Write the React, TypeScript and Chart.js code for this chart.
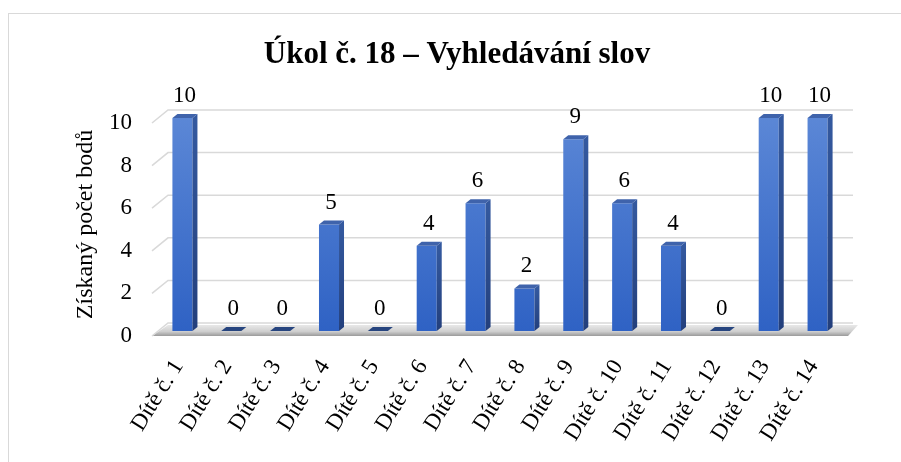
import React, { useEffect, useRef } from 'react';
import { Chart, registerables } from 'chart.js';

Chart.register(...registerables);

const categories = [
  'Dítě č. 1', 'Dítě č. 2', 'Dítě č. 3', 'Dítě č. 4', 'Dítě č. 5', 'Dítě č. 6', 'Dítě č. 7',
  'Dítě č. 8', 'Dítě č. 9', 'Dítě č. 10', 'Dítě č. 11', 'Dítě č. 12', 'Dítě č. 13', 'Dítě č. 14',
];
const values = [10, 0, 0, 5, 0, 4, 6, 2, 9, 6, 4, 0, 10, 10];
const yTicks = [0, 2, 4, 6, 8, 10];
const titleText = 'Úkol č. 18 – Vyhledávání slov';
const yAxisTitle = 'Získaný počet bodů';

const FONT = '"Liberation Serif", "Times New Roman", serif';

const threeD = {
  id: 'threeD',
  beforeDatasetsDraw(chart: any) {
    const { ctx, chartArea, scales } = chart;
    const y = scales.y;
    const left = chartArea.left;
    const right = chartArea.right;
    const y0 = y.getPixelForValue(0);
    ctx.save();
    // floor
    const fg = ctx.createLinearGradient(0, y0 - 8, 0, y0 + 6);
    fg.addColorStop(0, '#f0f0f0');
    fg.addColorStop(0.6, '#cfcfcf');
    fg.addColorStop(1, '#8f8f8f');
    ctx.fillStyle = fg;
    ctx.beginPath();
    ctx.moveTo(left - 6, y0 + 5);
    ctx.lineTo(right + 6, y0 + 5);
    ctx.lineTo(right + 16, y0 - 6);
    ctx.lineTo(left + 10, y0 - 6);
    ctx.closePath();
    ctx.fill();
    // back-wall gridlines
    ctx.strokeStyle = '#d9d9d9';
    ctx.lineWidth = 1.5;
    for (const v of yTicks) {
      const p = y.getPixelForValue(v);
      ctx.beginPath();
      ctx.moveTo(left - 6, p + 5);
      ctx.lineTo(left + 10, p - 8);
      ctx.lineTo(right + 11, p - 8);
      ctx.stroke();
    }
    ctx.restore();
  },
  afterDatasetsDraw(chart: any) {
    const { ctx } = chart;
    const meta = chart.getDatasetMeta(0);
    const data = chart.data.datasets[0].data as number[];
    ctx.save();
    meta.data.forEach((bar: any, i: number) => {
      const { x, y, base, width } = bar.getProps(['x', 'y', 'base', 'width'], true);
      const xl = x - width / 2;
      const xr = x + width / 2;
      const dx = 5;
      const dy = 4;
      if (data[i] > 0) {
        const sg = ctx.createLinearGradient(0, y, 0, base);
        sg.addColorStop(0, '#34599f');
        sg.addColorStop(1, '#233f7c');
        ctx.fillStyle = sg;
        ctx.beginPath();
        ctx.moveTo(xr, y);
        ctx.lineTo(xr + dx, y - dy);
        ctx.lineTo(xr + dx, base - dy);
        ctx.lineTo(xr, base);
        ctx.closePath();
        ctx.fill();
        ctx.fillStyle = '#3f63ab';
      } else {
        ctx.fillStyle = '#27457f';
      }
      ctx.beginPath();
      ctx.moveTo(xl, y);
      ctx.lineTo(xr, y);
      ctx.lineTo(xr + dx, y - dy);
      ctx.lineTo(xl + dx, y - dy);
      ctx.closePath();
      ctx.fill();
      // data label
      ctx.fillStyle = '#000';
      ctx.font = `23px ${FONT}`;
      ctx.textAlign = 'center';
      ctx.textBaseline = 'middle';
      ctx.fillText(String(data[i]), x + 2, y - 22);
    });
    ctx.restore();
  },
  afterDraw(chart: any) {
    const { ctx } = chart;
    ctx.save();
    ctx.fillStyle = '#000';
    ctx.font = `bold 31px ${FONT}`;
    ctx.textAlign = 'center';
    ctx.textBaseline = 'alphabetic';
    ctx.fillText(titleText, 448, 49);
    ctx.restore();
  },
};

export default function App() {
  const ref = useRef<HTMLCanvasElement>(null);
  useEffect(() => {
    const canvas = ref.current!;
    const chart = new Chart(canvas, {
      type: 'bar',
      data: {
        labels: categories,
        datasets: [
          {
            data: values,
            backgroundColor: (c: any) => {
              const ca = c.chart.chartArea;
              if (!ca) return '#4472c4';
              const g = c.chart.ctx.createLinearGradient(0, ca.top, 0, ca.bottom);
              g.addColorStop(0, '#5b87d6');
              g.addColorStop(1, '#2f62c4');
              return g;
            },
            borderWidth: 0,
            barPercentage: 0.41,
            categoryPercentage: 1,
          },
        ],
      },
      options: {
        responsive: false,
        animation: false,
        devicePixelRatio: 1,
        layout: { padding: { top: 104, right: 60, bottom: 0, left: 62 } },
        plugins: {
          legend: { display: false },
          title: { display: false },
          tooltip: { enabled: false },
        },
        scales: {
          x: {
            grid: { display: false, drawTicks: false },
            border: { display: false },
            ticks: {
              minRotation: 58,
              maxRotation: 58,
              autoSkip: false,
              padding: 24,
              labelOffset: -4,
              color: '#000',
              font: { family: FONT, size: 23 },
            },
            afterFit: (s: any) => {
              s.height = 132;
            },
          },
          y: {
            min: 0,
            max: 10,
            grid: { display: false, drawTicks: false },
            border: { display: false },
            afterBuildTicks: (s: any) => {
              s.ticks = yTicks.map((v) => ({ value: v }));
            },
            ticks: {
              padding: 26,
              labelOffset: 5,
              color: '#000',
              font: { family: FONT, size: 23 },
            },
            title: {
              display: true,
              text: yAxisTitle,
              padding: 0,
              color: '#000',
              font: { family: FONT, size: 24 },
            },
            afterFit: (s: any) => {
              s.width = 87;
            },
          },
        },
      },
      plugins: [threeD],
    });
    return () => chart.destroy();
  }, []);

  return (
    <div
      style={{
        position: 'absolute',
        left: 8,
        top: 13,
        width: 920,
        height: 480,
        border: '1px solid #d9d9d9',
        boxSizing: 'border-box',
        background: '#fff',
      }}
    >
      <canvas ref={ref} width={893} height={449} style={{ display: 'block' }} />
    </div>
  );
}
